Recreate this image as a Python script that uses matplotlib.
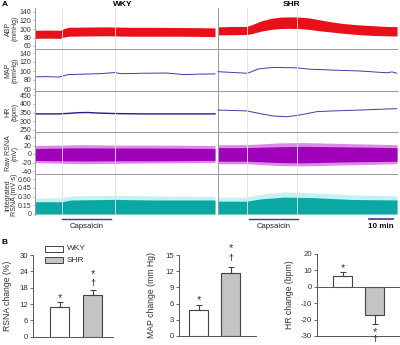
import numpy as np
import matplotlib
matplotlib.use("Agg")
import matplotlib.pyplot as plt
from matplotlib.patches import Rectangle

plt.rcParams['font.family'] = ['Liberation Sans', 'DejaVu Sans']
plt.rcParams['axes.unicode_minus'] = False

W, H = 400, 345

# ---------------- Panel A data (minutes within each recording) ----------------
abp_wky_t = [0, 5, 10.5, 12, 14, 20, 30, 40, 50, 60, 70, 75]
abp_wky_sys = [97, 97.5, 97, 101, 104, 104.5, 105, 104, 104, 103.5, 103, 102.5]
abp_wky_dia = [78, 78.5, 78, 81, 83, 83.5, 84, 83, 83, 83, 82.5, 82]

abp_shr_t = [0, 6, 12, 14, 18, 22, 26, 30, 34, 38, 42, 47, 52, 58, 64, 70, 74.6]
abp_shr_sys = [105, 106, 106, 110, 119, 125, 128, 128.5, 128, 126, 122, 117, 113, 110, 108, 106, 105.5]
abp_shr_dia = [86, 86.5, 87, 89, 95, 99, 101, 101.5, 101, 99, 96, 93, 90, 87, 85, 84, 83.5]

map_wky_t = [0, 5, 10, 11.5, 14, 20, 27, 33, 36, 45, 55, 62, 68, 75]
map_wky = [87, 87.5, 86.5, 89, 92, 93, 94, 96.5, 94, 95, 95.5, 92, 93, 93.5]
map_shr_t = [0, 12, 13.3, 16.7, 22.9, 32.9, 38.3, 47.9, 59.2, 70.4, 72.5, 74.6]
map_shr = [98.5, 95, 97, 104.5, 108, 107, 104, 102, 100, 96, 98, 95]

hr_wky_t = [0, 10, 14, 18, 22, 26, 33, 45, 60, 75]
hr_wky = [342, 342, 345, 349, 350, 347, 344, 342, 342, 342]
hr_shr_t = [0, 12, 16.7, 22.9, 28.75, 34.2, 41.25, 47.9, 59.2, 70.4, 74.6]
hr_shr = [364, 359, 346, 330, 326, 336, 355, 359, 364, 370, 372]

raw_wky_t = [0, 11, 20, 33, 50, 75]
raw_wky_in_hi = [13, 14, 14.5, 14, 14, 13]
raw_wky_in_lo = [-15, -16, -16.5, -16, -16, -15]
raw_wky_out_hi = [20, 21, 22, 21, 21, 20]
raw_wky_out_lo = [-20, -22, -23, -22, -21, -20]
raw_shr_t = [0, 12, 25, 35, 50, 74.6]
raw_shr_in_hi = [15, 15, 17, 18, 17, 15]
raw_shr_in_lo = [-17, -17, -20, -21, -19, -17]
raw_shr_out_hi = [22, 22, 26, 27, 25, 22]
raw_shr_out_lo = [-23, -23, -27, -28, -26, -23]

int_wky_t = [0, 11, 15, 33, 50, 75]
int_wky_core = [0.21, 0.21, 0.24, 0.25, 0.24, 0.24]
int_wky_halo = [0.27, 0.28, 0.31, 0.32, 0.31, 0.30]
int_shr_t = [0, 12, 18, 28, 40, 55, 74.6]
int_shr_core = [0.22, 0.22, 0.26, 0.29, 0.28, 0.25, 0.24]
int_shr_halo = [0.29, 0.29, 0.34, 0.38, 0.36, 0.33, 0.31]

caps_wky = (11.25, 31.7)
caps_shr = (12.9, 33.3)
marks_wky = [11.25, 33.3]
marks_shr = [12.0, 33.0]

# ---------------- Panel B data ----------------
groups = ["WKY", "SHR"]
rsna_change = [11.0, 15.3]
rsna_err = [1.6, 1.8]
map_change = [4.8, 11.6]
map_err = [0.9, 1.2]
hr_change = [6.5, -17.3]
hr_err = [2.7, 5.4]

# ---------------- helpers ----------------
fig = plt.figure(figsize=(W / 100, H / 100), dpi=100)


def rect(l, t, r, b):
    return [l / W, 1 - b / H, (r - l) / W, (b - t) / H]


def fx(px):
    return px / W


def fy(py):
    return 1 - py / H


PX_PER_MIN = 2.4
X0 = 35
SHR_OFF = (218 - X0) / PX_PER_MIN
XMAX = (397 - X0) / PX_PER_MIN

rows = [
    (8, 49, 12, 140, 46, 60, [60, 80, 100, 120, 140], None),
    (50, 91, 53, 140, 89, 60, [60, 80, 100, 120, 140], None),
    (92, 132, 95, 450, 130, 250, [250, 300, 350, 400, 450], None),
    (133, 174, 137, 40, 171, -40, [-40, -20, 0, 20, 40], None),
    (175, 215, 179, 0.60, 214, 0.0, [0, 0.15, 0.30, 0.45, 0.60],
     ["0", "0.15", "0.30", "0.45", "0.60"]),
]
ylabels = ["ABP\n(mmHg)", "MAP\n(mmHg)", "HR\n(bpm)", "Raw RSNA\n(mV)", "Integrated\nRSNA (mV·s)"]

axes_a = []
for i, (t, b, p1, v1, p2, v2, ticks, tl) in enumerate(rows):
    ax = fig.add_axes(rect(X0, t, 397, b))
    slope = (v1 - v2) / (p2 - p1)
    ax.set_ylim(v2 - (b - p2) * slope, v1 + (p1 - t) * slope)
    ax.set_xlim(0, XMAX)
    ax.set_yticks(ticks)
    if tl is not None:
        ax.set_yticklabels(tl)
    ax.set_xticks([])
    for s in ["top", "right"]:
        ax.spines[s].set_visible(False)
    ax.spines["left"].set_color("#9a9a9a")
    ax.spines["left"].set_linewidth(0.7)
    if i < 4:
        ax.spines["bottom"].set_color("#9a9a9a")
        ax.spines["bottom"].set_linewidth(0.7)
    else:
        ax.spines["bottom"].set_visible(False)
    ax.tick_params(axis="y", length=1.5, width=0.5, color="#9a9a9a", labelsize=5.0, pad=1,
                   labelcolor="#333333")
    ax.axvline(SHR_OFF, color="#9a9a9a", lw=0.7)
    for m in marks_wky:
        ax.axvline(m, color="#e2e2e2", lw=0.6, zorder=5)
    for m in marks_shr:
        ax.axvline(m + SHR_OFF, color="#e2e2e2", lw=0.6, zorder=5)
    ax.patch.set_alpha(0)
    fig.text(fx(11.5), fy((t + b) / 2), ylabels[i], rotation=90, ha="center", va="center",
             fontsize=5.0, color="#333333", linespacing=1.0)
    axes_a.append(ax)

shr = lambda tt: [x + SHR_OFF for x in tt]

a = axes_a[0]
a.fill_between(abp_wky_t, abp_wky_dia, abp_wky_sys, color="#e8101a", lw=0)
a.fill_between(shr(abp_shr_t), abp_shr_dia, abp_shr_sys, color="#e8101a", lw=0)

a = axes_a[1]
a.plot(map_wky_t, map_wky, color="#3c3ca8", lw=0.7)
a.plot(shr(map_shr_t), map_shr, color="#3c3ca8", lw=0.7)

a = axes_a[2]
a.plot(hr_wky_t, hr_wky, color="#1e1e8c", lw=1.0)
a.plot(shr(hr_shr_t), hr_shr, color="#3c3ca8", lw=0.7)

a = axes_a[3]
a.fill_between(raw_wky_t, raw_wky_out_lo, raw_wky_out_hi, color="#dc8ae8", lw=0)
a.fill_between(raw_wky_t, raw_wky_in_lo, raw_wky_in_hi, color="#a000ba", lw=0)
a.fill_between(shr(raw_shr_t), raw_shr_out_lo, raw_shr_out_hi, color="#dc8ae8", lw=0)
a.fill_between(shr(raw_shr_t), raw_shr_in_lo, raw_shr_in_hi, color="#a000ba", lw=0)

a = axes_a[4]
a.fill_between(int_wky_t, 0, int_wky_halo, color="#c4f2f2", lw=0)
a.fill_between(int_wky_t, 0, int_wky_core, color="#0aa8a2", lw=0)
a.fill_between(shr(int_shr_t), 0, int_shr_halo, color="#c4f2f2", lw=0)
a.fill_between(shr(int_shr_t), 0, int_shr_core, color="#0aa8a2", lw=0)

def tx(tmin):
    return fx(X0 + tmin * PX_PER_MIN)

for (c0, c1), off in [(caps_wky, 0), (caps_shr, SHR_OFF)]:
    fig.add_artist(plt.Line2D([tx(c0 + off), tx(c1 + off)], [fy(219), fy(219)],
                              color="#3c3c8c", lw=1.0))
    fig.text((tx(c0 + off) + tx(c1 + off)) / 2, fy(226.5), "Capsaicin", ha="center",
             va="center", fontsize=5.6, color="#222222")
fig.add_artist(plt.Line2D([fx(369), fx(393)], [fy(219), fy(219)], color="#3c3c8c", lw=1.2))
fig.text(fx(381), fy(227), "10 min", ha="center", va="center", fontsize=5.8,
         fontweight="bold", color="#111111")

fig.text(fx(123), fy(5), "WKY", ha="center", va="center", fontsize=6, fontweight="bold")
fig.text(fx(292), fy(5), "SHR", ha="center", va="center", fontsize=6, fontweight="bold")
fig.text(fx(2), fy(4), "A", ha="left", va="center", fontsize=6, fontweight="bold")
fig.text(fx(2), fy(243), "B", ha="left", va="center", fontsize=6, fontweight="bold")

# ---------------- Panel B ----------------
def bar_panel(l, r, ptop, vtop, pbot, vbot, ylim, ticks, centers_px, width_px,
              vals, errs, ylabel, ylabel_x):
    t = ptop - (vtop - ylim[1]) * (pbot - ptop) / (vtop - vbot)
    b = pbot + (vbot - ylim[0]) * (pbot - ptop) / (vtop - vbot)
    ax = fig.add_axes(rect(l, t, r, b))
    sp = centers_px[1] - centers_px[0]
    ax.set_xlim((l - centers_px[0]) / sp, (r - centers_px[0]) / sp)
    ax.set_ylim(*ylim)
    x = np.arange(len(vals))
    lo = [e if v < 0 else 0 for v, e in zip(vals, errs)]
    hi = [e if v >= 0 else 0 for v, e in zip(vals, errs)]
    ax.bar(x, vals, width=width_px / sp, color=["white", "#c4c4c4"], edgecolor="#444444",
           lw=0.8, yerr=[lo, hi], capsize=2.2,
           error_kw=dict(ecolor="#444444", elinewidth=0.8, capthick=0.8), zorder=3)
    ax.set_yticks(ticks)
    ax.set_xticks([])
    for s in ["top", "right"]:
        ax.spines[s].set_visible(False)
    for s in ["left", "bottom"]:
        ax.spines[s].set_color("#555555")
        ax.spines[s].set_linewidth(0.7)
    ax.tick_params(axis="y", length=2, width=0.6, color="#555555", labelsize=5.6, pad=1.5,
                   labelcolor="#333333")
    fig.text(fx(ylabel_x), fy((t + b) / 2), ylabel, rotation=90, ha="center", va="center",
             fontsize=6.2, color="#333333")
    return ax

ax1 = bar_panel(33, 113, 255, 30, 336.7, 0, (0, 30), [0, 6, 12, 18, 24, 30],
                (59.5, 92.5), 19, rsna_change, rsna_err, "RSNA change (%)", 8)
ax2 = bar_panel(179, 256, 255, 15, 336, 0, (0, 15), [0, 3, 6, 9, 12, 15],
                (198.5, 230.5), 19, map_change, map_err, "MAP change (mm Hg)", 152)
ax3 = bar_panel(317, 400, 254, 20, 336, -30, (-30, 20), [-30, -20, -10, 0, 10, 20],
                (342.5, 374.5), 19, hr_change, hr_err, "HR change (bpm)", 290)
ax3.axhline(0, color="#555555", lw=0.7, zorder=4)

sym = dict(ha="center", va="center", fontsize=8, color="#333333", clip_on=False)
dag = dict(sym, fontsize=6.5, fontweight="bold")
ax1.text(0, 14.2, "*", **sym)
ax1.text(1, 23.0, "*", **sym)
ax1.text(1, 19.6, "†", **dag)
ax2.text(0, 6.7, "*", **sym)
ax2.text(1, 16.2, "*", **sym)
ax2.text(1, 14.3, "†", **dag)
ax3.text(0, 11.5, "*", **sym)
ax3.text(1, -27.5, "*", **sym)
ax3.text(1, -32.4, "†", **dag)

for (yc, col, name) in [(249, "white", "WKY"), (260, "#c4c4c4", "SHR")]:
    fig.add_artist(Rectangle((fx(45), fy(yc + 3)), (63 - 45) / W, 6 / H,
                             facecolor=col, edgecolor="#444444", lw=0.7,
                             transform=fig.transFigure))
    fig.text(fx(67), fy(yc), name, ha="left", va="center", fontsize=6, color="#333333")

fig.savefig("out.png", dpi=100)
